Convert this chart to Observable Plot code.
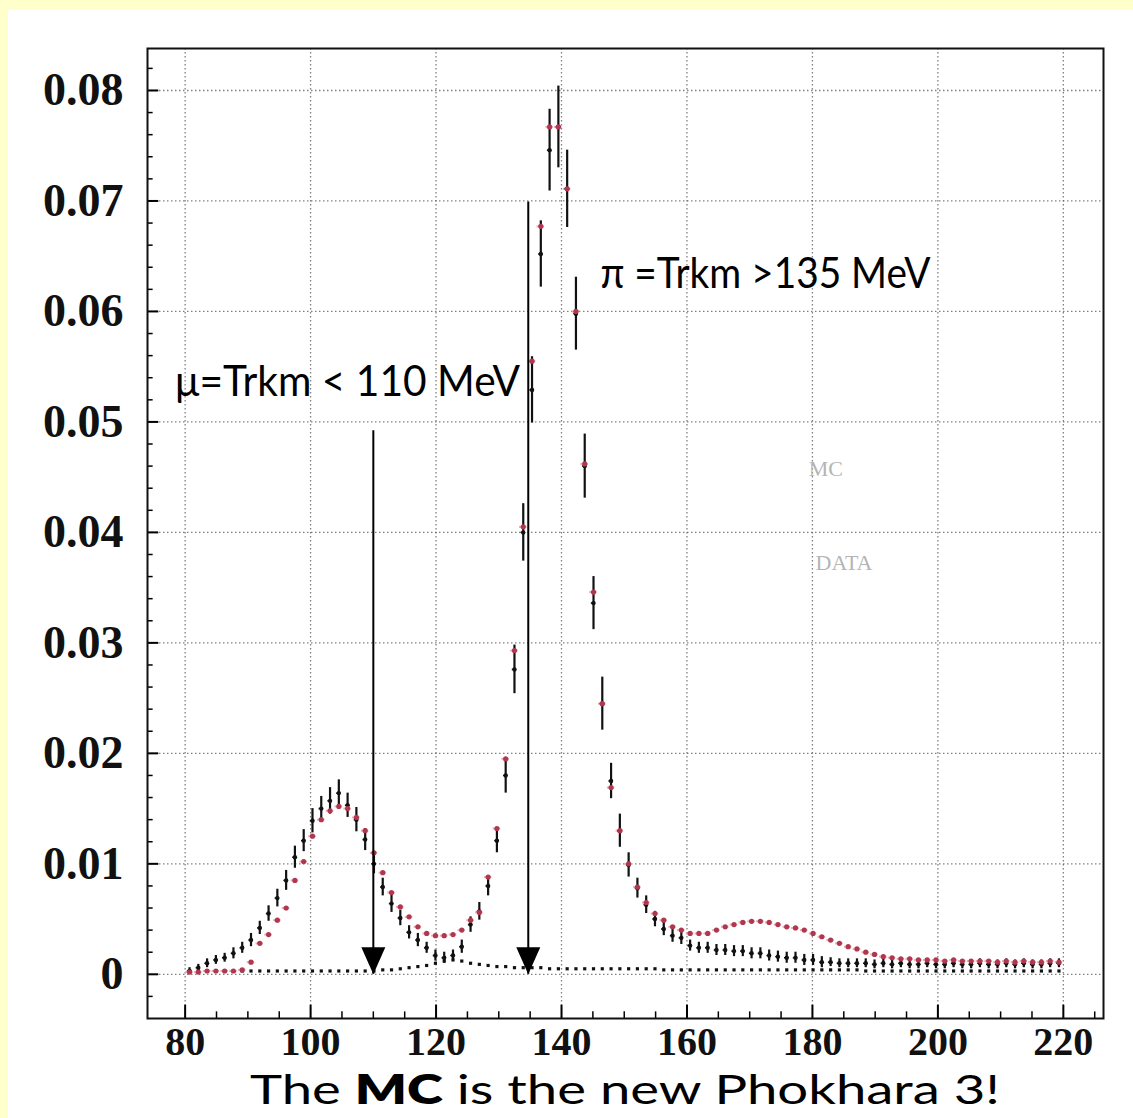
<!DOCTYPE html>
<html>
<head>
<meta charset="utf-8">
<script src="https://cdn.jsdelivr.net/npm/d3@7"></script>
<script src="https://cdn.jsdelivr.net/npm/@observablehq/plot@0.6"></script>
<style>
  html, body { margin: 0; padding: 0; background: #ffffcc; width: 1133px; height: 1118px; overflow: hidden; }
  #panel { position: absolute; left: 8px; top: 10px; width: 1125px; height: 1108px; background: #ffffff; }
  #chart { position: absolute; left: 0; top: 0; }
  #caption { position: absolute; left: 242px; top: 1058px; white-space: nowrap; font-family: Lato, "Open Sans", sans-serif; font-size: 41px; line-height: 1; color: #000; transform-origin: 0 0; }
  #caption b { font-weight: 800; }
</style>
</head>
<body>
<div id="panel">
  <div id="chart"></div>
  <div id="caption">The <b>MC</b> is the new Phokhara 3!</div>
</div>
<script>
// ---- data ----
const binCenter = [
  80.7, 82.1, 83.5, 84.9, 86.3, 87.7, 89.1, 90.5, 91.9, 93.3,
  94.7, 96.1, 97.5, 98.9, 100.3, 101.7, 103.1, 104.5, 105.9, 107.3,
  108.7, 110.1, 111.5, 112.9, 114.3, 115.7, 117.1, 118.5, 119.9, 121.3,
  122.7, 124.1, 125.5, 126.9, 128.3, 129.7, 131.1, 132.5, 133.9, 135.3,
  136.7, 138.1, 139.5, 140.9, 142.3, 143.7, 145.1, 146.5, 147.9, 149.3,
  150.7, 152.1, 153.5, 154.9, 156.3, 157.7, 159.1, 160.5, 161.9, 163.3,
  164.7, 166.1, 167.5, 168.9, 170.3, 171.7, 173.1, 174.5, 175.9, 177.3,
  178.7, 180.1, 181.5, 182.9, 184.3, 185.7, 187.1, 188.5, 189.9, 191.3,
  192.7, 194.1, 195.5, 196.9, 198.3, 199.7, 201.1, 202.5, 203.9, 205.3,
  206.7, 208.1, 209.5, 210.9, 212.3, 213.7, 215.1, 216.5, 217.9, 219.3
];
const dataVal = [
  0.0003, 0.0006, 0.0010, 0.0013, 0.0015, 0.0019, 0.0024, 0.0031, 0.0042, 0.0055,
  0.0069, 0.0085, 0.0106, 0.0121, 0.0139, 0.0150, 0.0157, 0.0164, 0.0153, 0.0140,
  0.0122, 0.0100, 0.0079, 0.0064, 0.0051, 0.0038, 0.0031, 0.0024, 0.0017, 0.0015,
  0.0017, 0.0025, 0.0045, 0.0057, 0.0080, 0.0121, 0.0180, 0.0276, 0.0400, 0.0529,
  0.0652, 0.0746, 0.0767, 0.0711, 0.0598, 0.0460, 0.0336, 0.0245, 0.0175, 0.0130,
  0.0099, 0.0078, 0.0063, 0.0050, 0.0041, 0.0035, 0.0033, 0.0026, 0.0024, 0.0024,
  0.0022, 0.0022, 0.0021, 0.0021, 0.0019, 0.0019, 0.0017, 0.0016, 0.0015, 0.0015,
  0.0013, 0.0013, 0.0011, 0.0011, 0.0010, 0.0010, 0.0010, 0.0010, 0.0009, 0.0010,
  0.0009, 0.0010, 0.0009, 0.0009, 0.0010, 0.0009, 0.0009, 0.0010, 0.0009, 0.0009,
  0.0010, 0.0009, 0.0009, 0.0010, 0.0009, 0.0010, 0.0009, 0.0009, 0.0010, 0.0010
];
const dataErr = [
  0.0003, 0.0003, 0.0004, 0.0004, 0.0004, 0.0005, 0.0005, 0.0006, 0.0006, 0.0007,
  0.0008, 0.0009, 0.0010, 0.0010, 0.0011, 0.0011, 0.0012, 0.0012, 0.0011, 0.0011,
  0.0010, 0.0009, 0.0008, 0.0008, 0.0007, 0.0006, 0.0006, 0.0005, 0.0005, 0.0005,
  0.0005, 0.0006, 0.0007, 0.0008, 0.0009, 0.0011, 0.0016, 0.0022, 0.0026, 0.0030,
  0.0030, 0.0037, 0.0037, 0.0035, 0.0033, 0.0029, 0.0024, 0.0024, 0.0016, 0.0015,
  0.0011, 0.0009, 0.0008, 0.0007, 0.0006, 0.0006, 0.0006, 0.0005, 0.0005, 0.0005,
  0.0005, 0.0005, 0.0005, 0.0005, 0.0005, 0.0005, 0.0005, 0.0005, 0.0005, 0.0005,
  0.0005, 0.0005, 0.0005, 0.0004, 0.0004, 0.0004, 0.0004, 0.0004, 0.0004, 0.0004,
  0.0004, 0.0004, 0.0004, 0.0004, 0.0004, 0.0004, 0.0004, 0.0004, 0.0004, 0.0004,
  0.0004, 0.0004, 0.0004, 0.0004, 0.0004, 0.0004, 0.0004, 0.0004, 0.0004, 0.0004
];
const mcVal = [
  0.0002, 0.0002, 0.0003, 0.0003, 0.0003, 0.0003, 0.0004, 0.0011, 0.0028, 0.0036,
  0.0049, 0.0060, 0.0085, 0.0102, 0.0125, 0.0140, 0.0148, 0.0152, 0.0150, 0.0142,
  0.0130, 0.0110, 0.0092, 0.0074, 0.0061, 0.0052, 0.0043, 0.0037, 0.0035, 0.0035,
  0.0036, 0.0040, 0.0049, 0.0056, 0.0088, 0.0132, 0.0195, 0.0293, 0.0405, 0.0555,
  0.0677, 0.0767, 0.0767, 0.0711, 0.0600, 0.0462, 0.0346, 0.0245, 0.0169, 0.0130,
  0.0100, 0.0079, 0.0065, 0.0055, 0.0049, 0.0043, 0.0040, 0.0037, 0.0037, 0.0037,
  0.0040, 0.0043, 0.0045, 0.0047, 0.0048, 0.0048, 0.0047, 0.0045, 0.0043, 0.0042,
  0.0040, 0.0037, 0.0034, 0.0031, 0.0028, 0.0025, 0.0023, 0.0020, 0.0018, 0.0016,
  0.0015, 0.0014, 0.0014, 0.0013, 0.0013, 0.0013, 0.0012, 0.0013, 0.0012, 0.0012,
  0.0012, 0.0012, 0.0011, 0.0012, 0.0011, 0.0012, 0.0011, 0.0011, 0.0012, 0.0011
];
const bgVal = [
  0.0003, 0.0003, 0.0003, 0.0003, 0.0003, 0.0003, 0.0003, 0.0003, 0.0003, 0.0003,
  0.0003, 0.0003, 0.0003, 0.0003, 0.0003, 0.0003, 0.0003, 0.0003, 0.0003, 0.0003,
  0.0003, 0.0003, 0.0004, 0.0004, 0.0005, 0.0006, 0.0007, 0.0008, 0.0010, 0.0012,
  0.0013, 0.0012, 0.0010, 0.0009, 0.0008, 0.0007, 0.0007, 0.0006, 0.0006, 0.0006,
  0.0006, 0.0005, 0.0005, 0.0005, 0.0005, 0.0005, 0.0005, 0.0005, 0.0005, 0.0005,
  0.0005, 0.0005, 0.0005, 0.0005, 0.0004, 0.0004, 0.0004, 0.0004, 0.0004, 0.0004,
  0.0004, 0.0004, 0.0004, 0.0004, 0.0004, 0.0004, 0.0004, 0.0004, 0.0004, 0.0004,
  0.0004, 0.0004, 0.0004, 0.0004, 0.0004, 0.0004, 0.0004, 0.0003, 0.0003, 0.0003,
  0.0003, 0.0003, 0.0003, 0.0003, 0.0003, 0.0003, 0.0003, 0.0003, 0.0003, 0.0003,
  0.0003, 0.0003, 0.0003, 0.0003, 0.0003, 0.0003, 0.0003, 0.0003, 0.0003, 0.0003
];
const xTicks = [80, 100, 120, 140, 160, 180, 200, 220];
const xLabels = ["80", "100", "120", "140", "160", "180", "200", "220"];
const xMinor = [85, 90, 95, 105, 110, 115, 125, 130, 135, 145, 150, 155, 165, 170, 175, 185, 190, 195, 205, 210, 215, 225];
const yTicks = [0, 0.01, 0.02, 0.03, 0.04, 0.05, 0.06, 0.07, 0.08];
const yLabels = ["0", "0.01", "0.02", "0.03", "0.04", "0.05", "0.06", "0.07", "0.08"];
const yMinor = [-0.002, 0.002, 0.004, 0.006, 0.008, 0.012, 0.014, 0.016, 0.018, 0.022, 0.024, 0.026, 0.028,
  0.032, 0.034, 0.036, 0.038, 0.042, 0.044, 0.046, 0.048, 0.052, 0.054, 0.056, 0.058,
  0.062, 0.064, 0.066, 0.068, 0.072, 0.074, 0.076, 0.078, 0.082];
const arrowX = [110, 134.7];
const arrowFrom = [0.0492, 0.0699];
const arrowTo = [0, 0];
const noteText = ["μ=Trkm < 110 MeV", "π =Trkm >135 MeV"];
const noteX = [78.4, 146.2];
const noteY = [0.0536, 0.0633];
const legendText = ["MC", "DATA"];
const legendX = [179.4, 180.5];
const legendY = [0.0457, 0.0372];

// ---- build ----
const xDomain = [74, 226.4];
const yDomain = [-0.004, 0.0838];
const rows = binCenter.map((x, i) => ({x, data: dataVal[i], err: dataErr[i], mc: mcVal[i], bg: bgVal[i]}));
const arrows = arrowX.map((x, i) => ({x, from: arrowFrom[i], to: arrowTo[i]}));
const notes = noteText.map((t, i) => ({t, x: noteX[i], y: noteY[i]}));
const legend = legendText.map((t, i) => ({t, x: legendX[i], y: legendY[i]}));

const triangleDown = {
  draw(ctx) { ctx.moveTo(-12, -27); ctx.lineTo(12, -27); ctx.lineTo(0, 0); ctx.closePath(); }
};
const serif = "'Liberation Serif', 'DejaVu Serif', serif";
const sans = "Lato, 'Open Sans', sans-serif";

const chart = Plot.plot({
  width: 1125,
  height: 1060,
  marginLeft: 139,
  marginRight: 30,
  marginTop: 38,
  marginBottom: 52,
  x: {domain: xDomain, axis: null},
  y: {domain: yDomain, axis: null},
  style: {background: "transparent", overflow: "visible"},
  marks: [
    Plot.ruleX(xTicks, {x: d => d, stroke: "#555", strokeDasharray: "1.5,2.5", strokeWidth: 1.3, strokeOpacity: 0.75}),
    Plot.ruleY(yTicks, {y: d => d, stroke: "#555", strokeDasharray: "1.5,2.5", strokeWidth: 1.3, strokeOpacity: 0.75}),
    Plot.ruleY(yMinor, {y: d => d, x1: xDomain[0], x2: xDomain[0] + 0.9, stroke: "#000", strokeWidth: 1.5}),
    Plot.ruleY(yTicks, {y: d => d, x1: xDomain[0], x2: xDomain[0] + 1.8, stroke: "#000", strokeWidth: 2}),
    Plot.ruleX(xMinor, {x: d => d, y1: yDomain[0], y2: yDomain[0] + 0.0006, stroke: "#000", strokeWidth: 1.5}),
    Plot.ruleX(xTicks, {x: d => d, y1: yDomain[0], y2: yDomain[0] + 0.0012, stroke: "#000", strokeWidth: 2}),
    // background (black dotted series near zero)
    Plot.dot(rows, {x: "x", y: "bg", symbol: "square", r: 1.8, fill: "#111"}),
    // MC bin-width marks
    Plot.ruleY(rows, {y: "mc", x1: d => d.x - 0.6, x2: d => d.x + 0.6, stroke: "#f2a8b4", strokeWidth: 2}),
    // data error bars
    Plot.ruleX(rows, {x: "x", y1: d => d.data - d.err, y2: d => d.data + d.err, stroke: "#111", strokeWidth: 2.2}),
    Plot.ruleY(rows, {y: "data", x1: d => d.x - 0.35, x2: d => d.x + 0.35, stroke: "#111", strokeWidth: 1.5}),
    Plot.dot(rows, {x: "x", y: "data", r: 2.2, fill: "#111"}),
    Plot.dot(rows, {x: "x", y: "mc", r: 2.6, fill: "#b0384e"}),
    Plot.frame({stroke: "#111", strokeWidth: 2}),
    // tick labels
    Plot.text(yTicks, {x: xDomain[0], y: d => d, text: (d, i) => yLabels[i], dx: -24, textAnchor: "end",
      fontSize: 46, fontWeight: "bold", fontFamily: serif, fill: "#111"}),
    Plot.text(xTicks, {x: d => d, y: yDomain[0], text: (d, i) => xLabels[i], dy: 24,
      fontSize: 40, fontWeight: "bold", fontFamily: serif, fill: "#111"}),
    // faint legend words
    Plot.text(legend, {x: "x", y: "y", text: "t", textAnchor: "start", fontSize: 22, fontFamily: serif, fill: "#b5b5b5"}),
    // arrows
    Plot.ruleX(arrows, {x: "x", y1: "from", y2: "to", stroke: "#000", strokeWidth: 2}),
    Plot.dot(arrows, {x: "x", y: "to", symbol: triangleDown, r: 10, fill: "#000", stroke: null}),
    // annotations
    Plot.text(notes, {x: "x", y: "y", text: "t", textAnchor: "start", fontSize: 42, fontFamily: sans, fill: "#000"})
  ]
});
document.getElementById("chart").appendChild(chart);

// fit annotation widths to the reference
const targetWidths = {"μ=Trkm < 110 MeV": 345, "π =Trkm >135 MeV": 330};
chart.querySelectorAll("text").forEach(t => {
  const w = targetWidths[t.textContent];
  if (w) { t.setAttribute("textLength", w); t.setAttribute("lengthAdjust", "spacingAndGlyphs"); }
});
// fit caption width
const cap = document.getElementById("caption");
const cw = cap.getBoundingClientRect().width;
cap.style.transform = `scaleX(${750 / cw})`;
</script>
</body>
</html>
